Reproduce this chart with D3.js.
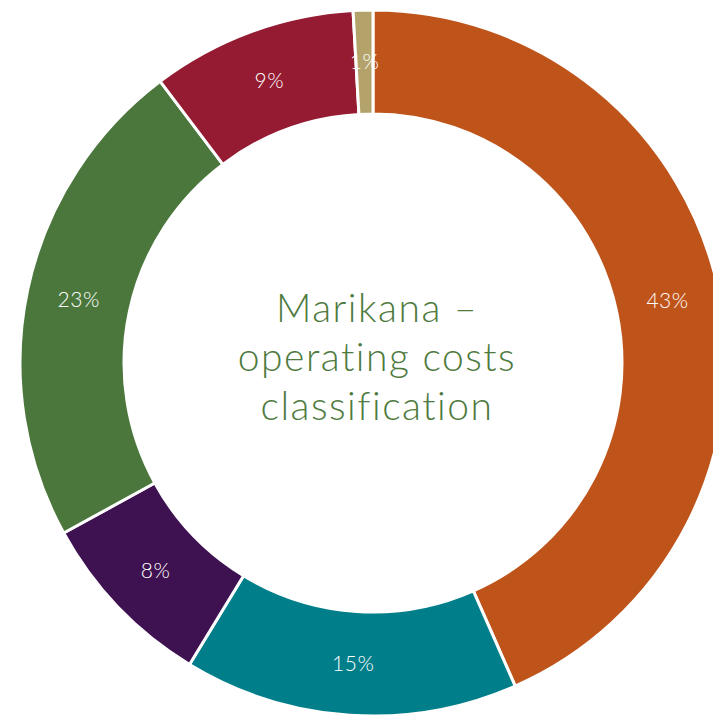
<!DOCTYPE html>
<html>
<head>
<meta charset="utf-8">
<script src="https://cdn.jsdelivr.net/npm/d3@7"></script>
<style>
  body { margin: 0; background: #fff; }
  svg { display: block; }
</style>
</head>
<body>
<svg id="chart"></svg>
<script>
// slices, clockwise from 12 o'clock
const categories = ['A', 'B', 'C', 'D', 'E', 'F'];
const values = [43.4, 15.3, 8.3, 22.7, 9.4, 0.9];
const colors = ['#BF541B', '#007E8A', '#3E1150', '#4B773C', '#951B32', '#B3A36A'];
const titleLines = ['Marikana –', 'operating costs', 'classification'];

const width = 713, height = 718;
const cx = 373, cy = 363;
const outerR = 353, innerR = 249;

const svg = d3.select('#chart').attr('width', width).attr('height', height);
const g = svg.append('g').attr('transform', 'translate(' + cx + ',' + cy + ')');

const data = categories.map((c, i) => ({ cat: c, value: values[i], color: colors[i] }));

const pie = d3.pie().value(d => d.value).sort(null);
const arc = d3.arc().innerRadius(innerR).outerRadius(outerR);
const fmt = d3.format('.0%');

const arcs = pie(data);

g.selectAll('path.slice')
    .data(arcs)
    .enter()
    .append('path')
    .attr('class', 'slice')
    .attr('d', arc)
    .attr('fill', d => d.data.color)
    .attr('stroke', '#fff')
    .attr('stroke-width', 3);

g.selectAll('text.lbl')
    .data(arcs)
    .enter()
    .append('text')
    .attr('class', 'lbl')
    .attr('transform', d => 'translate(' + arc.centroid(d) + ')')
    .attr('text-anchor', 'middle')
    .attr('dy', '0.35em')
    .style('font-family', 'Lato, "Open Sans", sans-serif')
    .style('font-weight', 300)
    .style('font-size', '21px')
    .style('letter-spacing', '0.5px')
    .attr('fill', '#fff')
    .text(d => fmt(d.data.value / 100));

svg.append('g')
    .selectAll('text')
    .data(titleLines)
    .enter()
    .append('text')
    .attr('x', 377)
    .attr('y', (d, i) => 322 + i * 49)
    .attr('text-anchor', 'middle')
    .style('font-family', 'Lato, "Open Sans", sans-serif')
    .style('font-weight', 300)
    .style('font-size', '39px')
    .style('letter-spacing', '1.5px')
    .attr('fill', '#4E7A3E')
    .text(d => d);
</script>
</body>
</html>
